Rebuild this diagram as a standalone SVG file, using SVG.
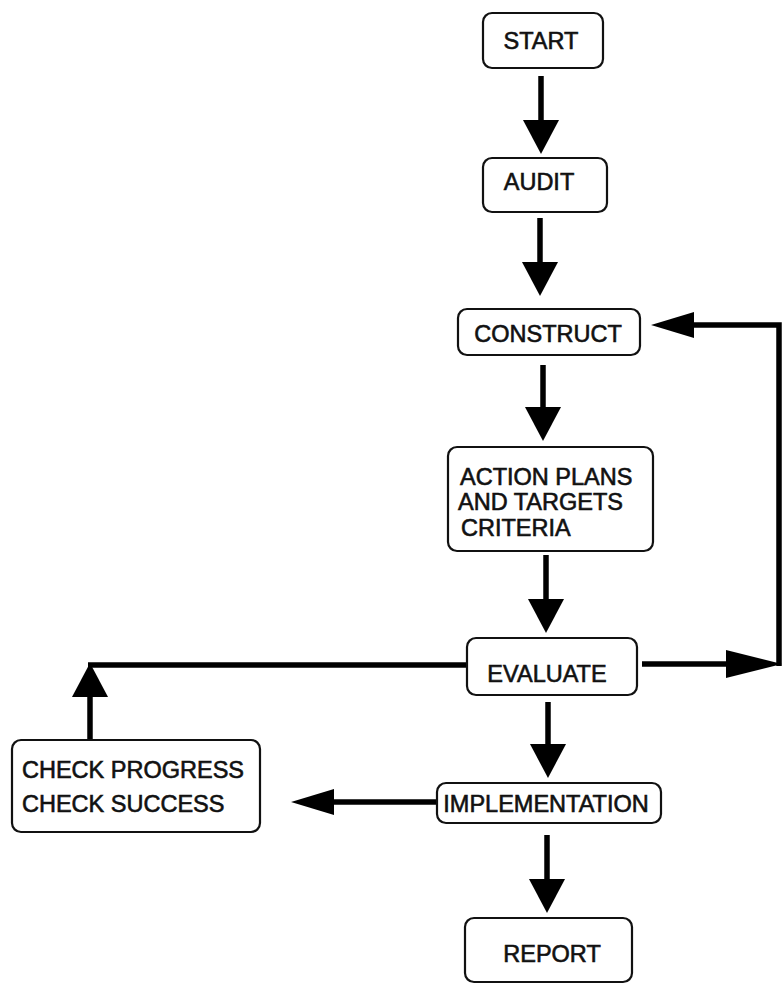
<svg xmlns="http://www.w3.org/2000/svg" width="783" height="987" viewBox="0 0 783 987">
  <style>
    .box { fill: #ffffff; stroke: #111111; stroke-width: 2.2; }
    .lbl { font-family: "Liberation Sans", Arial, sans-serif; font-size: 23.5px; fill: #111111; stroke: #111111; stroke-width: 0.6; }
    .mid { text-anchor: middle; }
    .wire { fill: none; stroke: #000000; stroke-width: 5.5; stroke-linejoin: miter; }
  </style>
  <defs>
    <!-- arrowheads, drawn from the end of the shaft outwards -->
    <marker id="headV" markerUnits="userSpaceOnUse" orient="auto" overflow="visible" markerWidth="40" markerHeight="40" refX="0" refY="0">
      <path d="M-1,-18 L33,0 L-1,18 Z" fill="#000"/>
    </marker>
    <marker id="headH" markerUnits="userSpaceOnUse" orient="auto" overflow="visible" markerWidth="50" markerHeight="30" refX="0" refY="0">
      <path d="M-1,-13 L42,0 L-1,13 Z" fill="#000"/>
    </marker>
    <marker id="headLong" markerUnits="userSpaceOnUse" orient="auto" overflow="visible" markerWidth="60" markerHeight="30" refX="0" refY="0">
      <path d="M-1,-14 L55,0 L-1,14 Z" fill="#000"/>
    </marker>
  </defs>

  <g id="connectors">
    <path class="wire" d="M541,76 V121" marker-end="url(#headV)"/>
    <path class="wire" d="M540,218 V263" marker-end="url(#headV)"/>
    <path class="wire" d="M543,365 V408" marker-end="url(#headV)"/>
    <path class="wire" d="M546,555 V600" marker-end="url(#headV)"/>
    <path class="wire" d="M548,702 V745" marker-end="url(#headV)"/>
    <path class="wire" d="M547,835 V880" marker-end="url(#headV)"/>
    <!-- evaluate back to construct -->
    <path class="wire" d="M642,664 H727" marker-end="url(#headLong)"/>
    <path class="wire" d="M779,666 V325 H693" marker-end="url(#headH)"/>
    <!-- check back to evaluate -->
    <path class="wire" d="M467,665 H88"/>
    <path class="wire" d="M90,740 V696" marker-end="url(#headV)"/>
    <!-- implementation to check -->
    <path class="wire" d="M437,802 H333" marker-end="url(#headH)"/>
  </g>

  <g id="start">
    <rect class="box" x="483" y="13" width="120" height="55" rx="9"/>
    <text class="lbl mid" x="541" y="49">START</text>
  </g>
  <g id="audit">
    <rect class="box" x="483" y="158" width="124" height="54" rx="9"/>
    <text class="lbl mid" x="539" y="190">AUDIT</text>
  </g>
  <g id="construct">
    <rect class="box" x="458" y="309" width="182" height="46" rx="9"/>
    <text class="lbl mid" x="548" y="342">CONSTRUCT</text>
  </g>
  <g id="action-plans">
    <rect class="box" x="448" y="447" width="205" height="104" rx="9"/>
    <text class="lbl" x="460" y="485">ACTION PLANS</text>
    <text class="lbl" x="458" y="510">AND TARGETS</text>
    <text class="lbl" x="461" y="536">CRITERIA</text>
  </g>
  <g id="evaluate">
    <rect class="box" x="467" y="638" width="170" height="57" rx="9"/>
    <text class="lbl mid" x="547" y="682">EVALUATE</text>
  </g>
  <g id="implementation">
    <rect class="box" x="437" y="783" width="224" height="40" rx="9"/>
    <text class="lbl mid" x="546" y="812">IMPLEMENTATION</text>
  </g>
  <g id="check">
    <rect class="box" x="12" y="740" width="248" height="92" rx="9"/>
    <text class="lbl" x="22" y="778">CHECK PROGRESS</text>
    <text class="lbl" x="22" y="812">CHECK SUCCESS</text>
  </g>
  <g id="report">
    <rect class="box" x="465" y="918" width="167" height="64" rx="9"/>
    <text class="lbl mid" x="552" y="962">REPORT</text>
  </g>
</svg>
